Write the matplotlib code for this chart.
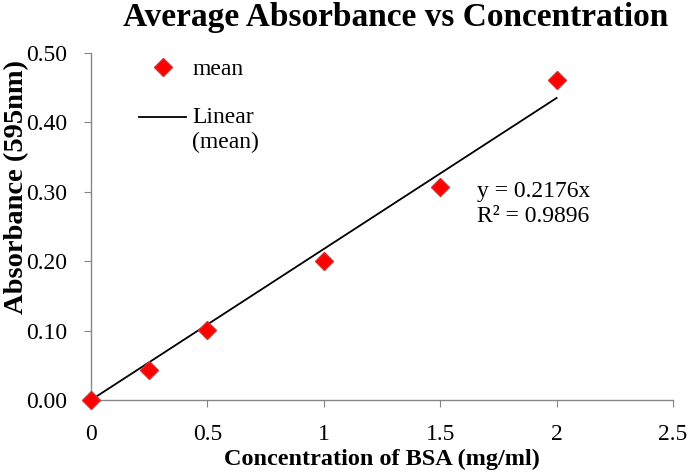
import matplotlib.pyplot as plt
from matplotlib.legend_handler import HandlerLine2D

plt.rcParams['font.family'] = ['Liberation Serif', 'DejaVu Serif']

# data
conc = [0, 0.25, 0.5, 1.0, 1.5, 2.0]
absorbance = [0.0, 0.043, 0.101, 0.200, 0.307, 0.461]
slope = 0.2176
r2 = 0.9896
x_ticks = [0, 0.5, 1, 1.5, 2, 2.5]
x_tick_labels = ['0', '0.5', '1', '1.5', '2', '2.5']
y_ticks = [0.0, 0.1, 0.2, 0.3, 0.4, 0.5]


class TopLineHandler(HandlerLine2D):
    # put the trendline sample next to the first line of a two-line label
    def create_artists(self, legend, orig_handle, xdescent, ydescent,
                       width, height, fontsize, trans):
        return super().create_artists(legend, orig_handle, xdescent, ydescent - 19,
                                      width, height, fontsize, trans)


fig = plt.figure(figsize=(6.89, 4.76), dpi=100)
ax = fig.add_axes([91 / 689, 76 / 476, 582 / 689, 347 / 476])

fit_x = [0, 2]
fit_y = [slope * v for v in fit_x]
fit_line, = ax.plot(fit_x, fit_y, color='black', lw=1.3, label='Linear\n(mean)', zorder=2)
ax.plot(conc, absorbance, linestyle='none', marker='D', markersize=9.5,
        markerfacecolor='#ff0000', markeredgecolor='#d03030', markeredgewidth=1,
        label='mean', zorder=3, clip_on=False)

ax.set_xlim(0, 2.5)
ax.set_ylim(0, 0.5)
ax.set_xticks(x_ticks)
ax.set_xticklabels(x_tick_labels)
ax.set_yticks(y_ticks)
ax.set_yticklabels([f'{v:.2f}' for v in y_ticks])

for side in ['top', 'right']:
    ax.spines[side].set_visible(False)
for side in ['left', 'bottom']:
    ax.spines[side].set_color('#868686')
    ax.spines[side].set_linewidth(1)
ax.tick_params(direction='out', length=5, color='#868686', labelsize=17)
ax.tick_params(axis='x', pad=12)
ax.tick_params(axis='y', pad=12)

fig.text(396 / 689, 0.995, 'Average Absorbance vs Concentration', fontsize=24,
         fontweight='bold', ha='center', va='top')
ax.set_xlabel('Concentration of BSA (mg/ml)', fontsize=17.5, fontweight='bold', labelpad=3)
ax.set_ylabel('Absorbance (595nm)', fontsize=20.5, fontweight='bold')
ax.yaxis.set_label_coords(-0.107, 0.614)

ax.text(1.66, 0.315, f'y = {slope}x\nR² = {r2}', fontsize=17, va='top', ha='left', linespacing=1.25)

handles, labels = ax.get_legend_handles_labels()
ax.legend(handles[::-1], labels[::-1], loc='upper left', bbox_to_anchor=(0.046, 1.045),
          frameon=False, fontsize=17, handlelength=2.0, labelspacing=1.15, handletextpad=0.25,
          handler_map={fit_line: TopLineHandler()})

fig.savefig('out.png', dpi=100)
